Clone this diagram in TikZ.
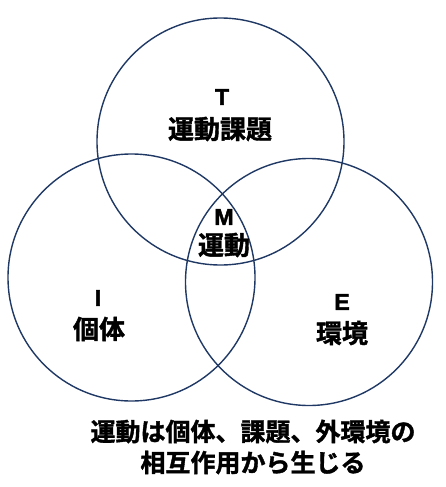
\documentclass[tikz,border=0pt]{standalone}
\usepackage{fontspec}
\setmainfont{Liberation Sans}
\newfontfamily\jpfont{Noto Sans CJK JP}[UprightFont={* Bold},FakeBold=1.5]
\newfontfamily\latfont{Liberation Sans}[UprightFont={* Bold},FakeBold=2]
\usetikzlibrary{positioning}
\definecolor{ringblue}{RGB}{31,56,100}

\begin{document}
\begin{tikzpicture}[x=1pt,y=-1pt,
  ring/.style={circle, draw=ringblue, line width=1.4pt, minimum size=247pt, inner sep=0pt},
  letter/.style={font=\latfont\fontsize{23}{23}\selectfont, inner sep=0pt},
  word/.style={font=\jpfont\fontsize{26}{26}\selectfont, inner sep=0pt},
  note/.style={font=\jpfont\fontsize{25}{31}\selectfont, align=center, inner sep=0pt}
  ]
  \useasboundingbox (0,0) rectangle (446,487);

  \node[ring] (T) at (220.5,141.5) {};
  \node[ring] (I) at (131.5,277.5) {};
  \node[ring] (E) at (309,282) {};

  \node[letter] (Tl) at (222,97) {T};
  \node[word] (Tw) at (220,129) {運動課題};

  \node[letter] (Ml) at (224,217) {M};
  \node[word] (Mw) at (224,245) {運動};

  \node[letter] (Il) at (98,298) {I};
  \node[word] (Iw) at (99,329) {個体};

  \node[letter] (El) at (342,302) {E};
  \node[word] (Ew) at (342,333) {環境};

  \node[note] (N) at (253,447) {運動は個体、課題、外環境の\\相互作用から生じる};

\end{tikzpicture}
\end{document}
